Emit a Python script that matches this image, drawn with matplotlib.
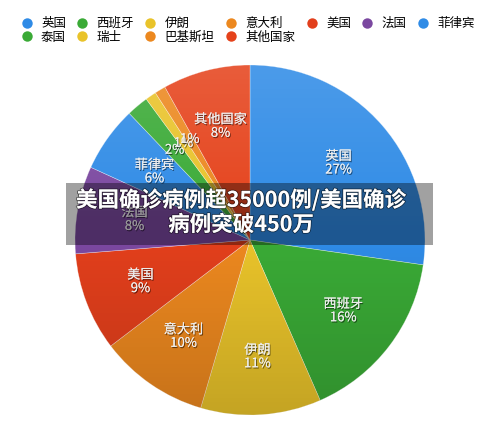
import numpy as np
import matplotlib
matplotlib.use("Agg")
import matplotlib.pyplot as plt
import matplotlib.patheffects as pe
from matplotlib.patches import Rectangle, Circle
from matplotlib.lines import Line2D

plt.rcParams['font.family'] = ['Noto Sans CJK SC', 'DejaVu Sans']

# data (percent of total)
countries = ['英国', '西班牙', '伊朗', '意大利', '美国', '法国', '菲律宾',
             '泰国', '瑞士', '巴基斯坦', '其他国家']
shares = [27, 16, 11, 10, 9, 8, 6, 2, 1, 1, 8]
title = '美国确诊病例超35000例/美国确诊\n病例突破450万'

colors = ['#2f8be6', '#3aaa36', '#e9c32a', '#ec881f', '#e23f1c', '#7b48a0',
          '#2f8be6', '#3aaa36', '#e9c32a', '#ec881f', '#e5421b']

W, H = 500, 430
fig = plt.figure(figsize=(W / 100, H / 100), dpi=100)

cx, cy, r = 250, 240, 175
ax = fig.add_axes([(cx - r) / W, (H - cy - r) / H, 2 * r / W, 2 * r / H])

wedges, _ = ax.pie(shares, colors=colors, startangle=90, counterclock=False,
                   radius=1, wedgeprops=dict(linewidth=0.4, edgecolor=(1, 1, 1, 0.5)))

# light from the top, darker toward the bottom
g = np.linspace(0, 1, 256)[:, None]
shade = np.zeros((256, 1, 4))
top = np.clip(1 - g / 0.5, 0, 1)
bot = np.clip((g - 0.5) / 0.5, 0, 1)
shade[..., :3] = np.where(g < 0.5, 1.0, 0.0)[..., None]
shade[..., 3] = 0.14 * top + 0.16 * bot
im = ax.imshow(shade, extent=(-1, 1, -1, 1), aspect='auto', zorder=3)
im.set_clip_path(Circle((0, 0), 1, transform=ax.transData))
ax.set_xlim(-1, 1)
ax.set_ylim(-1, 1)
ax.set_aspect('equal')
ax.axis('off')

lab_fx = [pe.withSimplePatchShadow(offset=(0.7, -0.9), shadow_rgbFace='black', alpha=0.55), pe.Normal()]
total = sum(shares)
start = 90
for name, v in zip(countries, shares):
    mid = np.deg2rad(start - v / total * 360 / 2)
    start -= v / total * 360
    txt = '%d%%' % v if v < 5 else '%s\n%d%%' % (name, v)
    d = 0.67
    ax.text(d * np.cos(mid), d * np.sin(mid), txt, ha='center', va='center',
            fontsize=9.5, color='#eeeeee', linespacing=1.05, zorder=5,
            path_effects=lab_fx)

# dark band with the headline
fig.add_artist(Rectangle((66 / W, 1 - 245 / H), (433 - 66) / W, 62 / H,
                         transform=fig.transFigure, facecolor='black',
                         alpha=0.37, edgecolor='none', zorder=10))
fig.text(241 / W, 1 - 212 / H, title, ha='center', va='center', fontsize=15.5,
         fontweight='bold', color='white', linespacing=1.2, zorder=11,
         path_effects=[pe.withStroke(linewidth=1.2, foreground=(0, 0, 0, 0.5))])

# legend is filled column by column, so order items to read row by row
order = [0, 7, 1, 8, 2, 9, 3, 10, 4, 5, 6]
handles = [Line2D([], [], marker='o', linestyle='', markersize=7.5,
                  markerfacecolor=colors[i], markeredgecolor='none') for i in order]
fig.legend(handles, [countries[i] for i in order], ncol=7, loc='upper left',
           bbox_to_anchor=(21 / W, 1 - 17 / H), frameon=False, fontsize=9,
           handlelength=0.9, handletextpad=0.7, columnspacing=0.85,
           labelspacing=0.05, borderpad=0, borderaxespad=0)

fig.savefig('out.png', dpi=100)
